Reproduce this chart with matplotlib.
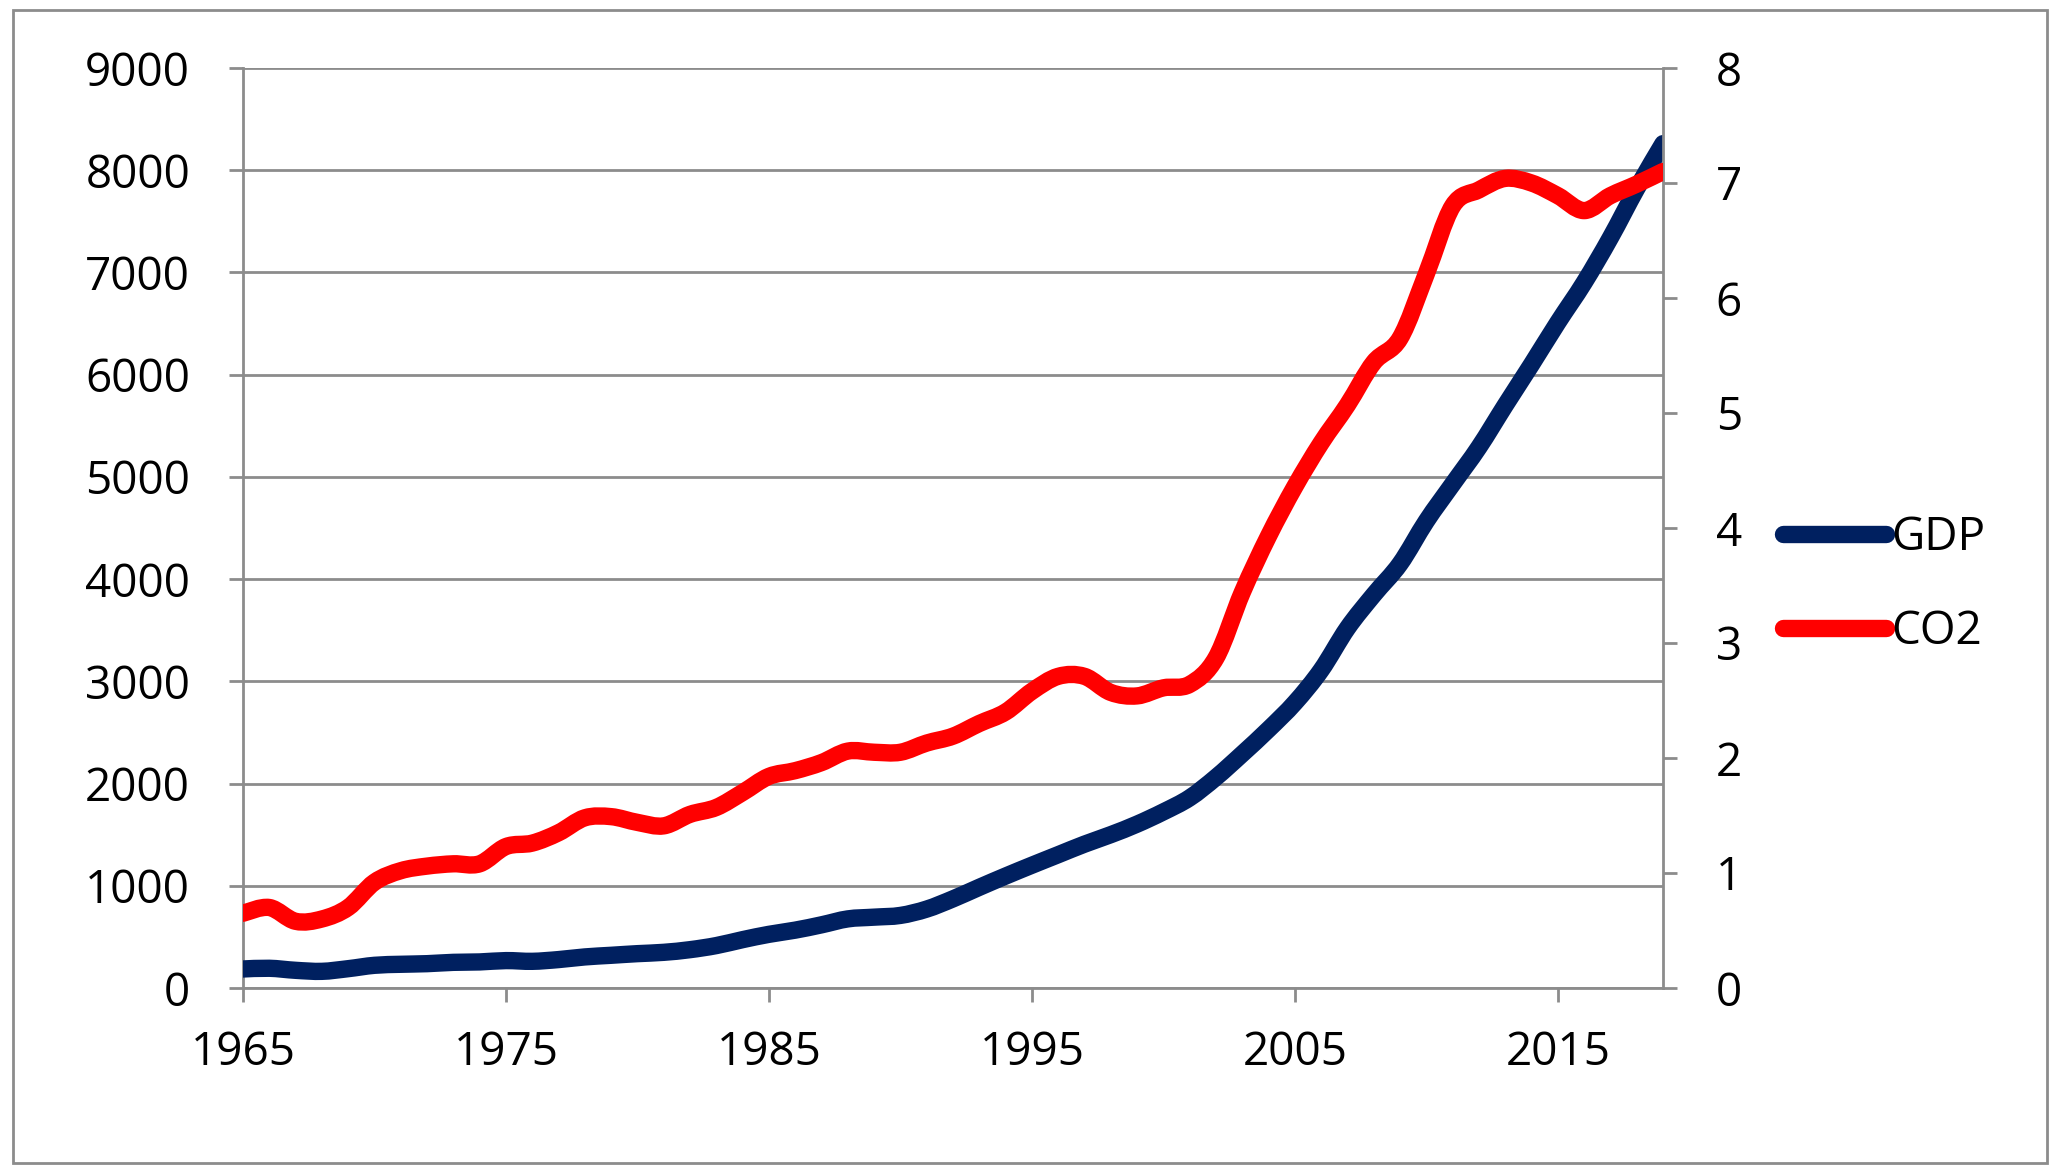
import matplotlib.pyplot as plt
from matplotlib.patches import Rectangle, PathPatch
from matplotlib.path import Path
from matplotlib.lines import Line2D

# GDP per capita (left axis) and CO2 per capita (right axis)
years = list(range(1965, 2020))
gdp = [186, 193, 173, 163, 189, 222, 232, 238, 251, 255,
       268, 261, 278, 304, 320, 336, 349, 375, 415, 473,
       525, 566, 618, 676, 693, 710, 772, 872, 985, 1095,
       1201, 1304, 1407, 1500, 1603, 1723, 1860, 2060, 2290, 2530,
       2790, 3110, 3520, 3847, 4150, 4567, 4930, 5290, 5700, 6100,
       6510, 6900, 7340, 7820, 8260]
co2 = [0.65, 0.70, 0.58, 0.60, 0.70, 0.92, 1.02, 1.06, 1.08, 1.08,
       1.23, 1.26, 1.35, 1.48, 1.49, 1.44, 1.41, 1.51, 1.57, 1.70,
       1.84, 1.89, 1.96, 2.06, 2.05, 2.05, 2.13, 2.19, 2.30, 2.40,
       2.58, 2.71, 2.71, 2.57, 2.54, 2.61, 2.64, 2.87, 3.44, 3.93,
       4.36, 4.74, 5.07, 5.44, 5.65, 6.21, 6.80, 6.94, 7.04, 7.00,
       6.89, 6.76, 6.89, 6.99, 7.10]

x_ticks = [1965, 1975, 1985, 1995, 2005, 2015]
left_ticks = list(range(0, 9001, 1000))
right_ticks = list(range(0, 9))

plt.rcParams['font.family'] = ['Open Sans', 'DejaVu Sans']
plt.rcParams['font.size'] = 33

GRID = '#8c8c8c'
NAVY = '#002060'
RED = '#ff0000'
LW = 12.5


def smooth_line(ax, xs, ys, color):
    # Excel-style smoothed line: cubic Bezier segments through every data point
    n = len(xs)
    verts = [(xs[0], ys[0])]
    codes = [Path.MOVETO]
    for i in range(n - 1):
        x0, y0 = (xs[i - 1], ys[i - 1]) if i > 0 else (xs[i], ys[i])
        x3, y3 = (xs[i + 2], ys[i + 2]) if i + 2 < n else (xs[i + 1], ys[i + 1])
        c1 = (xs[i] + (xs[i + 1] - x0) / 6, ys[i] + (ys[i + 1] - y0) / 6)
        c2 = (xs[i + 1] - (x3 - xs[i]) / 6, ys[i + 1] - (y3 - ys[i]) / 6)
        verts += [c1, c2, (xs[i + 1], ys[i + 1])]
        codes += [Path.CURVE4] * 3
    patch = PathPatch(Path(verts, codes), fill=False, edgecolor=color, linewidth=LW,
                      capstyle='round', joinstyle='round', zorder=3)
    ax.add_patch(patch)


fig = plt.figure(figsize=(20.61, 11.75), dpi=100)
fig.patches.append(Rectangle((13 / 2061, 1 - 1163 / 1175), (2047 - 13) / 2061, (1163 - 10) / 1175,
                             transform=fig.transFigure, fill=False, edgecolor=GRID, linewidth=2))

ax = fig.add_axes([243 / 2061, 1 - 988 / 1175, (1663 - 243) / 2061, (988 - 68) / 1175])
ax2 = ax.twinx()

smooth_line(ax, years, gdp, NAVY)
smooth_line(ax2, years, co2, RED)

ax.set_xlim(1965, 2019)
ax.set_ylim(0, 9000)
ax2.set_ylim(0, 8)
ax.set_xticks(x_ticks)
ax.set_yticks(left_ticks)
ax2.set_yticks(right_ticks)

ax.grid(True, axis='y', color=GRID, linewidth=2)
ax.set_axisbelow(True)
for a in (ax, ax2):
    a.spines['top'].set_visible(False)
    for s in ('left', 'right', 'bottom'):
        a.spines[s].set_color(GRID)
        a.spines[s].set_linewidth(2)
ax.spines['right'].set_visible(False)
ax2.spines['left'].set_visible(False)
ax2.spines['bottom'].set_visible(False)

ax.tick_params(axis='both', color=GRID, width=2, length=10, pad=28, labelsize=33)
ax.tick_params(axis='x', pad=20)
ax2.tick_params(axis='y', color=GRID, width=2, length=10, pad=28, labelsize=33)

handles = [Line2D([], [], color=NAVY, linewidth=LW, solid_capstyle='round'),
           Line2D([], [], color=RED, linewidth=LW, solid_capstyle='round')]
fig.legend(handles, ['GDP', 'CO2'], loc='center left', bbox_to_anchor=(1783 / 2061, 1 - 585 / 1175),
           frameon=False, borderpad=0, borderaxespad=0, handlelength=2.25, handletextpad=0.12,
           labelspacing=1.05, fontsize=33)

fig.savefig('out.png', dpi=100)
